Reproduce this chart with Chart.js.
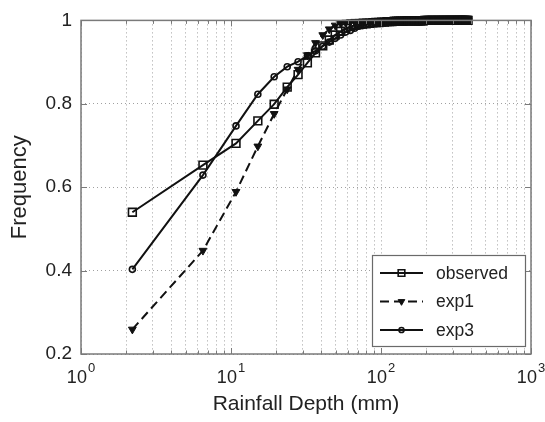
<!DOCTYPE html>
<html>
<head>
<meta charset="utf-8">
<script src="https://cdn.jsdelivr.net/npm/chart.js@4.4.1/dist/chart.umd.min.js"></script>
<style>
    html, body { margin: 0; padding: 0; background: #fff; }
</style>
</head>
<body>
<canvas id="freq-chart" width="545" height="422"></canvas>
<script>
    // Rainfall depth bins (mm)
    var depth = [
        2.2, 6.5, 10.8, 15.1, 19.4, 23.7, 28.0, 32.3, 36.6, 40.9,
        45.2, 49.5, 53.8, 58.1, 62.4, 66.7, 71.0, 75.3, 79.6, 83.9,
        88.2, 92.5, 96.8, 101.1, 105.4, 109.7, 114.0, 118.3, 122.6, 126.9,
        131.2, 135.5, 139.8, 144.1, 148.4, 152.7, 157.0, 161.3, 165.6, 169.9,
        174.2, 178.5, 182.8, 187.1, 191.4, 195.7, 200.0, 204.3, 208.6, 212.9,
        217.2, 221.5, 225.8, 230.1, 234.4, 238.7, 243.0, 247.3, 251.6, 255.9,
        260.2, 264.5, 268.8, 273.1, 277.4, 281.7, 286.0, 290.3, 294.6, 298.9,
        303.2, 307.5, 311.8, 316.1, 320.4, 324.7, 329.0, 333.3, 337.6, 341.9,
        346.2, 350.5, 354.8, 359.1, 363.4, 367.7, 372.0, 376.3, 380.6
    ];

    var observed = [
        0.540, 0.653, 0.705, 0.759, 0.799, 0.840, 0.870, 0.898, 0.922, 0.939,
        0.953, 0.965, 0.974, 0.981, 0.985, 0.988, 0.990, 0.991, 0.992, 0.993,
        0.994, 0.995, 0.995, 0.996, 0.996, 0.997, 0.997, 0.997, 0.998, 0.998,
        0.998, 0.998, 0.998, 0.999, 0.999, 0.999, 0.999, 0.999, 0.999, 0.999,
        0.999, 0.999, 0.999, 0.999, 0.999, 1, 1, 1, 1, 1,
        1, 1, 1, 1, 1, 1, 1, 1, 1, 1,
        1, 1, 1, 1, 1, 1, 1, 1, 1, 1,
        1, 1, 1, 1, 1, 1, 1, 1, 1, 1,
        1, 1, 1, 1, 1, 1, 1, 1, 1
    ];

    var exp1 = [
        0.259, 0.448, 0.589, 0.698, 0.776, 0.835, 0.882, 0.917, 0.946, 0.965,
        0.979, 0.988, 0.993, 0.995, 0.996, 0.997, 0.997, 0.998, 0.998, 0.998,
        0.999, 0.999, 0.999, 0.999, 0.999, 1, 1, 1, 1, 1,
        1, 1, 1, 1, 1, 1, 1, 1, 1, 1,
        1, 1, 1, 1, 1, 1, 1, 1, 1, 1,
        1, 1, 1, 1, 1, 1, 1, 1, 1, 1,
        1, 1, 1, 1, 1, 1, 1, 1, 1, 1,
        1, 1, 1, 1, 1, 1, 1, 1, 1, 1,
        1, 1, 1, 1, 1, 1, 1, 1, 1
    ];

    var exp3 = [
        0.403, 0.629, 0.747, 0.823, 0.865, 0.889, 0.901, 0.915, 0.927, 0.938,
        0.948, 0.957, 0.965, 0.972, 0.976, 0.981, 0.986, 0.988, 0.990, 0.991,
        0.992, 0.993, 0.994, 0.995, 0.995, 0.996, 0.996, 0.997, 0.997, 0.998,
        0.998, 0.998, 0.999, 0.999, 0.999, 0.999, 0.999, 0.999, 1, 1,
        1, 1, 1, 1, 1, 1, 1, 1, 1, 1,
        1, 1, 1, 1, 1, 1, 1, 1, 1, 1,
        1, 1, 1, 1, 1, 1, 1, 1, 1, 1,
        1, 1, 1, 1, 1, 1, 1, 1, 1, 1,
        1, 1, 1, 1, 1, 1, 1, 1, 1
    ];

    var seriesNames = ["observed", "exp1", "exp3"];

    // Axis ticks
    var xTicks = [1, 2, 3, 4, 5, 6, 7, 8, 9, 10, 20, 30, 40, 50, 60, 70, 80, 90,
                  100, 200, 300, 400, 500, 600, 700, 800, 900, 1000];
    var xMajor = [1, 10, 100, 1000];
    var xMajorExp = ["0", "1", "2", "3"];
    var yTicks = [0.2, 0.4, 0.6, 0.8, 1];
    var yTickLabels = ["0.2", "0.4", "0.6", "0.8", "1"];


    var FONT = "'Liberation Sans', Arial, Helvetica, sans-serif";
    var INK = "#111111";

    function points(values) {
        return depth.map(function (d, i) { return {x: d, y: values[i]}; });
    }

    // MATLAB style box, inward ticks, 10^n labels and legend
    var matlabBox = {
        id: "matlabBox",
        afterDatasetsDraw: function (chart) {
            var ctx = chart.ctx, a = chart.chartArea;
            var xs = chart.scales.x, ys = chart.scales.y;
            ctx.save();
            ctx.strokeStyle = "#7a7a7a";
            ctx.lineWidth = 1;
            ctx.beginPath();
            xTicks.forEach(function (v) {
                var px = Math.round(xs.getPixelForValue(v)) + 0.5;
                var len = xMajor.indexOf(v) >= 0 ? 6 : 3.5;
                ctx.moveTo(px, a.bottom); ctx.lineTo(px, a.bottom - len);
                ctx.moveTo(px, a.top); ctx.lineTo(px, a.top + len);
            });
            yTicks.forEach(function (v) {
                var py = Math.round(ys.getPixelForValue(v)) + 0.5;
                ctx.moveTo(a.left, py); ctx.lineTo(a.left + 6, py);
                ctx.moveTo(a.right, py); ctx.lineTo(a.right - 6, py);
            });
            ctx.stroke();
            ctx.lineWidth = 1.5;
            ctx.strokeRect(a.left, a.top, a.right - a.left, a.bottom - a.top);

            // x labels as 10 with a raised exponent
            ctx.fillStyle = "#222";
            ctx.textBaseline = "alphabetic";
            ctx.textAlign = "left";
            xMajor.forEach(function (v, i) {
                var px = xs.getPixelForValue(v);
                ctx.font = "18px " + FONT;
                var w1 = ctx.measureText("10").width;
                ctx.font = "13px " + FONT;
                var w2 = ctx.measureText(xMajorExp[i]).width;
                var x0 = px - (w1 + w2 + 1) / 2;
                ctx.font = "18px " + FONT;
                ctx.fillText("10", x0, a.bottom + 29);
                ctx.font = "13px " + FONT;
                ctx.fillText(xMajorExp[i], x0 + w1 + 1, a.bottom + 18);
            });
            ctx.restore();
        },
        afterDraw: function (chart) {
            var ctx = chart.ctx;
            var bx = 372, by = 255, bw = 153, bh = 91;
            ctx.save();
            ctx.fillStyle = "#ffffff";
            ctx.fillRect(bx, by, bw, bh);
            ctx.strokeStyle = "#6a6a6a";
            ctx.lineWidth = 1.2;
            ctx.strokeRect(bx + 0.5, by + 0.5, bw, bh);

            chart.data.datasets.forEach(function (ds, i) {
                var y = by + 18 + i * 28.5;
                ctx.strokeStyle = INK;
                ctx.lineWidth = ds.borderWidth;
                ctx.setLineDash(ds.borderDash || []);
                ctx.beginPath();
                ctx.moveTo(bx + 8, y);
                ctx.lineTo(bx + 51, y);
                ctx.stroke();
                ctx.setLineDash([]);
                ctx.fillStyle = ds.pointBackgroundColor;
                ctx.strokeStyle = ds.pointBorderColor;
                ctx.lineWidth = ds.pointBorderWidth;
                Chart.helpers.drawPoint(ctx, {
                    pointStyle: ds.pointStyle,
                    radius: ds.pointRadius * 0.85,
                    rotation: ds.pointRotation || 0,
                    borderWidth: ds.pointBorderWidth
                }, bx + 29.5, y);
                ctx.fillStyle = "#222";
                ctx.font = "17.5px " + FONT;
                ctx.textBaseline = "middle";
                ctx.fillText(ds.label, bx + 64, y + 1);
            });
            ctx.restore();
        }
    };

    var ctx1 = document.getElementById("freq-chart").getContext("2d");
    var myChart1 = new Chart(ctx1, {
        type: "line",
        data: {
            datasets: [{
                label: seriesNames[0],
                data: points(observed),
                borderColor: INK,
                borderWidth: 2,
                pointStyle: "rect",
                pointRadius: 5.5,
                pointBackgroundColor: "rgba(255,255,255,0)",
                pointBorderColor: INK,
                pointBorderWidth: 1.6,
                clip: false
            },
            {
                label: seriesNames[1],
                data: points(exp1),
                borderColor: INK,
                borderWidth: 2,
                borderDash: [9, 5],
                pointStyle: "triangle",
                pointRotation: 180,
                pointRadius: 4.5,
                pointBackgroundColor: INK,
                pointBorderColor: INK,
                pointBorderWidth: 1,
                clip: false
            },
            {
                label: seriesNames[2],
                data: points(exp3),
                borderColor: INK,
                borderWidth: 2,
                pointStyle: "circle",
                pointRadius: 3,
                pointBackgroundColor: "rgba(255,255,255,0)",
                pointBorderColor: INK,
                pointBorderWidth: 1.6,
                clip: false
            }]
        },
        options: {
            responsive: false,
            animation: false,
            devicePixelRatio: 1,
            layout: {padding: {left: 0, top: 15, right: 14, bottom: 0}},
            plugins: {
                legend: {display: false},
                tooltip: {enabled: false}
            },
            scales: {
                x: {
                    type: "logarithmic",
                    min: 1,
                    max: 1000,
                    afterBuildTicks: function (scale) {
                        scale.ticks = xTicks.map(function (v) {
                            return {value: v, major: xMajor.indexOf(v) >= 0};
                        });
                    },
                    afterFit: function (scale) { scale.height = 68; },
                    ticks: {
                        autoSkip: false,
                        maxRotation: 0,
                        padding: 6,
                        font: {family: FONT, size: 18},
                        callback: function () { return ""; }
                    },
                    grid: {color: "#a0a0a0", lineWidth: 1, drawTicks: false},
                    border: {display: false, dash: [1, 3]},
                    title: {
                        display: true,
                        text: "Rainfall Depth (mm)",
                        color: "#222",
                        font: {family: FONT, size: 21},
                        padding: {top: 0, bottom: 5}
                    }
                },
                y: {
                    type: "linear",
                    min: 0.2,
                    max: 1,
                    afterBuildTicks: function (scale) {
                        scale.ticks = yTicks.map(function (v) { return {value: v}; });
                    },
                    afterFit: function (scale) { scale.width = 81; },
                    ticks: {
                        padding: 9,
                        color: "#222",
                        font: {family: FONT, size: 19},
                        callback: function (value) {
                            var k = yTicks.indexOf(value);
                            return k >= 0 ? yTickLabels[k] : "";
                        }
                    },
                    grid: {color: "#a0a0a0", lineWidth: 1, drawTicks: false},
                    border: {display: false, dash: [1, 3]},
                    title: {
                        display: true,
                        text: "Frequency",
                        color: "#222",
                        font: {family: FONT, size: 22},
                        padding: {top: 7, bottom: 0}
                    }
                }
            }
        },
        plugins: [matlabBox]
    });
</script>
</body>
</html>
